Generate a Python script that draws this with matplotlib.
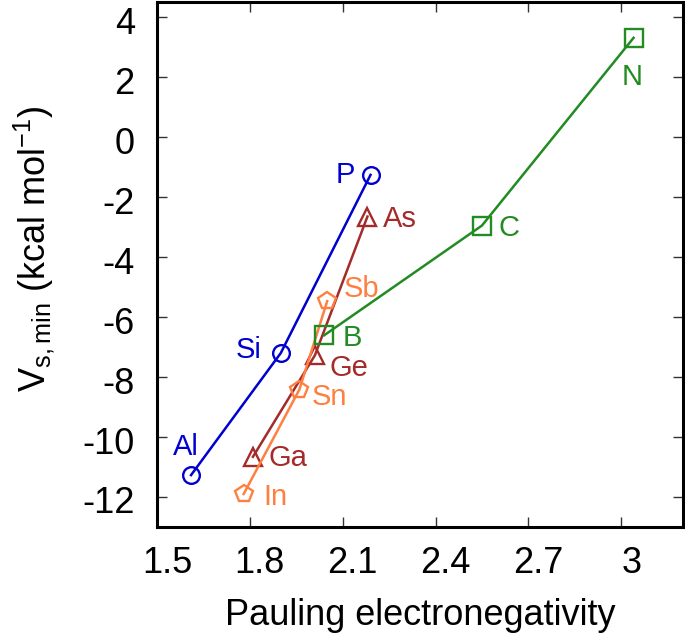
import matplotlib
matplotlib.use("Agg")
import matplotlib.pyplot as plt
import matplotlib.transforms as mtrans

plt.rcParams['font.family'] = ['Liberation Sans', 'DejaVu Sans']
plt.rcParams['mathtext.fontset'] = 'custom'
plt.rcParams['mathtext.rm'] = 'Liberation Sans'
plt.rcParams['mathtext.it'] = 'Liberation Sans:italic'

# Group 13/14/15 elements
x_blue = [1.61, 1.90, 2.19]
y_blue = [-11.27, -7.20, -1.26]
lab_blue = ["Al", "Si", "P"]

x_brown = [1.81, 2.01, 2.18]
y_brown = [-10.66, -7.28, -2.65]
lab_brown = ["Ga", "Ge", "As"]

x_orange = [1.78, 1.96, 2.05]
y_orange = [-11.90, -8.42, -5.47]
lab_orange = ["In", "Sn", "Sb"]

x_green = [2.04, 2.55, 3.04]
y_green = [-6.61, -2.95, 3.31]
lab_green = ["B", "C", "N"]

xticks = [1.5, 1.8, 2.1, 2.4, 2.7, 3.0]
xticklabels = ["1.5", "1.8", "2.1", "2.4", "2.7", "3"]
yticks = [-12, -10, -8, -6, -4, -2, 0, 2, 4]

fig = plt.figure(figsize=(6.85, 6.44), dpi=100)
ax = fig.add_axes([0.2292, 0.1817, 0.768, 0.815])

blue = '#0000d0'
brown = '#a52a2a'
orange = '#ff7f40'
green = '#228b22'

series = [
    (x_blue, y_blue, lab_blue, blue, 'o', 12),
    (x_brown, y_brown, lab_brown, brown, '^', 12.5),
    (x_orange, y_orange, lab_orange, orange, 'p', 13),
    (x_green, y_green, lab_green, green, 's', 12.5),
]
for xs, ys, labs, c, m, ms in series:
    ax.plot(xs, ys, color=c, lw=1.8, marker=m, ms=ms, mfc='none', mec=c, mew=1.7)

offsets = {
    "P": (-18, 0), "As": (23, -1.5), "Sb": (25, 9),
    "B": (20, -2), "Si": (-23, 2), "Ge": (24.5, -9),
    "Sn": (22, -5), "Al": (-4, 20), "Ga": (25, -1),
    "In": (23, -2), "C": (19.5, -2), "N": (-1, -28),
}
for xs, ys, labs, c, m, ms in series:
    for xv, yv, lab in zip(xs, ys, labs):
        dx, dy = offsets[lab]
        ax.annotate(lab, (xv, yv), xytext=(dx, dy), textcoords='offset points',
                    ha='center', va='center', color=c, fontsize=21)

ax.set_xlim(1.5, 3.2)
ax.set_ylim(-13, 4.5)
ax.set_xticks(xticks)
ax.set_xticklabels(xticklabels)
ax.set_yticks(yticks)
ax.set_yticklabels([str(v) for v in yticks])
ax.tick_params(direction='in', length=7, width=1, top=True, right=True,
               labelsize=26, color='#333333')
ax.tick_params(axis='x', pad=14)
ax.tick_params(axis='y', pad=16)
shift = mtrans.ScaledTranslation(10 / 100, 0, fig.dpi_scale_trans)
for lbl in ax.get_xticklabels():
    lbl.set_transform(lbl.get_transform() + shift)
shift_y = mtrans.ScaledTranslation(0, -3 / 100, fig.dpi_scale_trans)
for lbl in ax.get_yticklabels():
    lbl.set_transform(lbl.get_transform() + shift_y)
for sp in ax.spines.values():
    sp.set_linewidth(2.2)

ax.set_xlabel("Pauling electronegativity", fontsize=26, labelpad=12)
ax.set_ylabel(r"V$_{\rm s,min}$ (kcal mol$^{-1}$)", fontsize=26, labelpad=10)
ax.yaxis.set_label_coords(-0.19, 0.53)

fig.savefig("out.png", dpi=100)
